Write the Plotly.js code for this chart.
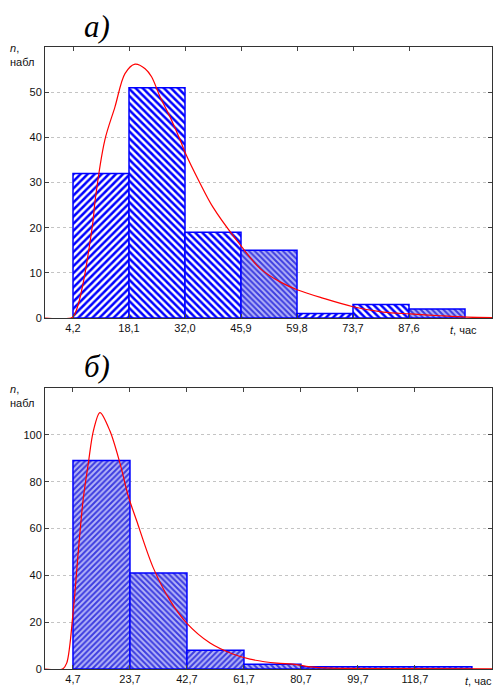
<!DOCTYPE html>
<html><head><meta charset="utf-8">
<script src="https://cdn.plot.ly/plotly-3.0.1.min.js"></script>
<style>html,body{margin:0;padding:0;background:#fff}#chart{width:493px;height:687px}</style>
</head><body><div id="chart"></div>
<script>
// ---- data: chart a) ----
const edgesA = [4.2, 18.1, 32.0, 45.9, 59.8, 73.7, 87.6, 101.5];
const countsA = [32, 51, 19, 15, 1, 3, 2];
const tickLabelsA = ['4,2', '18,1', '32,0', '45,9', '59,8', '73,7', '87,6'];
const curveTA = [-2.75, 3.7, 4.4, 5.5, 7.0, 8.2, 9.2, 9.7, 12.1, 14.6, 17.1, 19.6, 22.1, 23.7, 25.8, 28.3, 30.8, 32.0, 35.7, 38.9, 44.4, 50.6, 55.6, 60.0, 66.2, 73.7, 81.2, 87.8, 95.3, 102.0, 108.2];
const curveNA = [0, 0, 0.5, 3.0, 9.0, 15.5, 21.7, 26.1, 39.4, 46.7, 54.1, 56.2, 55.2, 53.4, 49.0, 44.5, 39.4, 36.7, 29.9, 24.6, 17.7, 11.0, 8.0, 6.2, 4.4, 2.5, 1.3, 0.9, 0.5, 0.2, 0.1];
const yTicksA = [0, 10, 20, 30, 40, 50];

// ---- data: chart б) ----
const edgesB = [4.7, 23.7, 42.7, 61.7, 80.7, 99.7, 118.7, 137.7];
const countsB = [89, 41, 8, 2, 1, 1, 1];
const tickLabelsB = ['4,7', '23,7', '42,7', '61,7', '80,7', '99,7', '118,7'];
const curveTB = [-4.63, 1.2, 2.6, 4.8, 6.5, 8.1, 9.8, 11.5, 13.7, 17.0, 20.4, 23.1, 25.9, 31.4, 37.0, 42.6, 50.4, 58.0, 63.7, 72.7, 78.0, 83.7, 90.4, 113.7, 144.4];
const curveNB = [0, 0, 2.5, 25, 50.6, 72.5, 87.7, 101.7, 109.5, 101.7, 87.7, 74, 63.4, 43.4, 29.4, 19.6, 11.1, 6.4, 4.2, 2.5, 2.1, 0.9, 0.4, 0.2, 0.1];
const yTicksB = [0, 20, 40, 60, 80, 100];

const xLabel = '<i>t</i>, час';
const yLabel = '<i>n</i>,<br>набл';

// ---- styling ----
const BOLD = {fg: '#0000ff', bg: '#ffffff', size: 5, sol: 0.5};
const FINE = {fg: '#3c3ce0', bg: '#b4b4f7', size: 4, sol: 0.5};
const styleA = [['/', BOLD], ['\\', BOLD], ['\\', BOLD], ['\\', FINE], ['/', BOLD], ['\\', BOLD], ['\\', FINE]];
const styleB = [['/', FINE], ['\\', FINE], ['/', FINE], ['\\', FINE], ['/', FINE], ['\\', FINE], ['/', FINE]];

function barTraces(edges, counts, style, xa, ya) {
  const out = [];
  for (let i = 0; i < counts.length; i++) {
    const [shape, s] = style[i];
    out.push({
      type: 'bar', x: [(edges[i] + edges[i + 1]) / 2], y: [counts[i]], width: [edges[i + 1] - edges[i]],
      xaxis: xa, yaxis: ya, hoverinfo: 'skip',
      marker: {
        color: s.fg,
        line: {color: '#0000ff', width: 1.5},
        pattern: {shape: shape, fgcolor: s.fg, bgcolor: s.bg, size: s.size, solidity: s.sol, fillmode: 'replace'}
      }
    });
  }
  return out;
}
function curveTrace(t, n, xa, ya) {
  return {type: 'scatter', mode: 'lines', x: t, y: n, xaxis: xa, yaxis: ya,
    line: {color: '#ff0000', width: 1.2, shape: 'spline', smoothing: 0.9}, hoverinfo: 'skip'};
}

const data = [].concat(
  barTraces(edgesA, countsA, styleA, 'x', 'y'),
  [curveTrace(curveTA, curveNA, 'x', 'y')],
  barTraces(edgesB, countsB, styleB, 'x2', 'y2'),
  [curveTrace(curveTB, curveNB, 'x2', 'y2')]
);

const font = {family: 'Liberation Sans, Arial, sans-serif', size: 11, color: '#111'};
const axCommon = {showline: true, linecolor: '#333', linewidth: 1, mirror: 'allticks',
  ticks: 'inside', ticklen: 4, tickcolor: '#444', zeroline: false, tickfont: font, fixedrange: true};

const H = 622; // plot area pixel height (paper)
const layout = {
  width: 493, height: 687,
  margin: {l: 45, r: 1, t: 47, b: 18},
  paper_bgcolor: '#fff', plot_bgcolor: '#fff',
  showlegend: false, bargap: 0, barmode: 'overlay',
  font: font,
  xaxis: Object.assign({}, axCommon, {range: [-2.75, 108.2], tickvals: edgesA.slice(0, -1), ticktext: tickLabelsA, showgrid: false, anchor: 'y'}),
  yaxis: Object.assign({}, axCommon, {range: [0, 60], tickvals: yTicksA, domain: [(669 - 318) / H, 1],
    showgrid: true, gridcolor: '#c4c4c4', griddash: '3px,3px', gridwidth: 1, anchor: 'x'}),
  xaxis2: Object.assign({}, axCommon, {range: [-4.63, 144.4], tickvals: edgesB.slice(0, -1), ticktext: tickLabelsB, showgrid: false, anchor: 'y2'}),
  yaxis2: Object.assign({}, axCommon, {range: [0, 120], tickvals: yTicksB, domain: [0, (669 - 388) / H],
    showgrid: true, gridcolor: '#c4c4c4', griddash: '3px,3px', gridwidth: 1, anchor: 'x2'}),
  annotations: [
    {text: '<i>а)</i>', xref: 'paper', yref: 'paper', x: (97 - 45) / 447, y: 1 + (47 - 26) / H,
      xanchor: 'center', yanchor: 'middle', showarrow: false,
      font: {family: 'Liberation Serif, Times New Roman, serif', size: 31, color: '#000'}},
    {text: '<i>б)</i>', xref: 'paper', yref: 'paper', x: (97 - 45) / 447, y: (669 - 366) / H,
      xanchor: 'center', yanchor: 'middle', showarrow: false,
      font: {family: 'Liberation Serif, Times New Roman, serif', size: 31, color: '#000'}},
    {text: yLabel, xref: 'paper', yref: 'paper', x: (8 - 45) / 447, y: 1 + (47 - 55) / H,
      xanchor: 'left', yanchor: 'middle', align: 'left', showarrow: false, font: font},
    {text: yLabel, xref: 'paper', yref: 'paper', x: (8 - 45) / 447, y: (669 - 396) / H,
      xanchor: 'left', yanchor: 'middle', align: 'left', showarrow: false, font: font},
    {text: xLabel, xref: 'paper', yref: 'paper', x: (463 - 45) / 447, y: (669 - 330) / H,
      xanchor: 'center', yanchor: 'middle', showarrow: false, font: font},
    {text: xLabel, xref: 'paper', yref: 'paper', x: (478 - 45) / 447, y: (669 - 681) / H,
      xanchor: 'center', yanchor: 'middle', showarrow: false, font: font}
  ]
};

Plotly.newPlot('chart', data, layout, {displayModeBar: false, staticPlot: true});
</script>
</body></html>
